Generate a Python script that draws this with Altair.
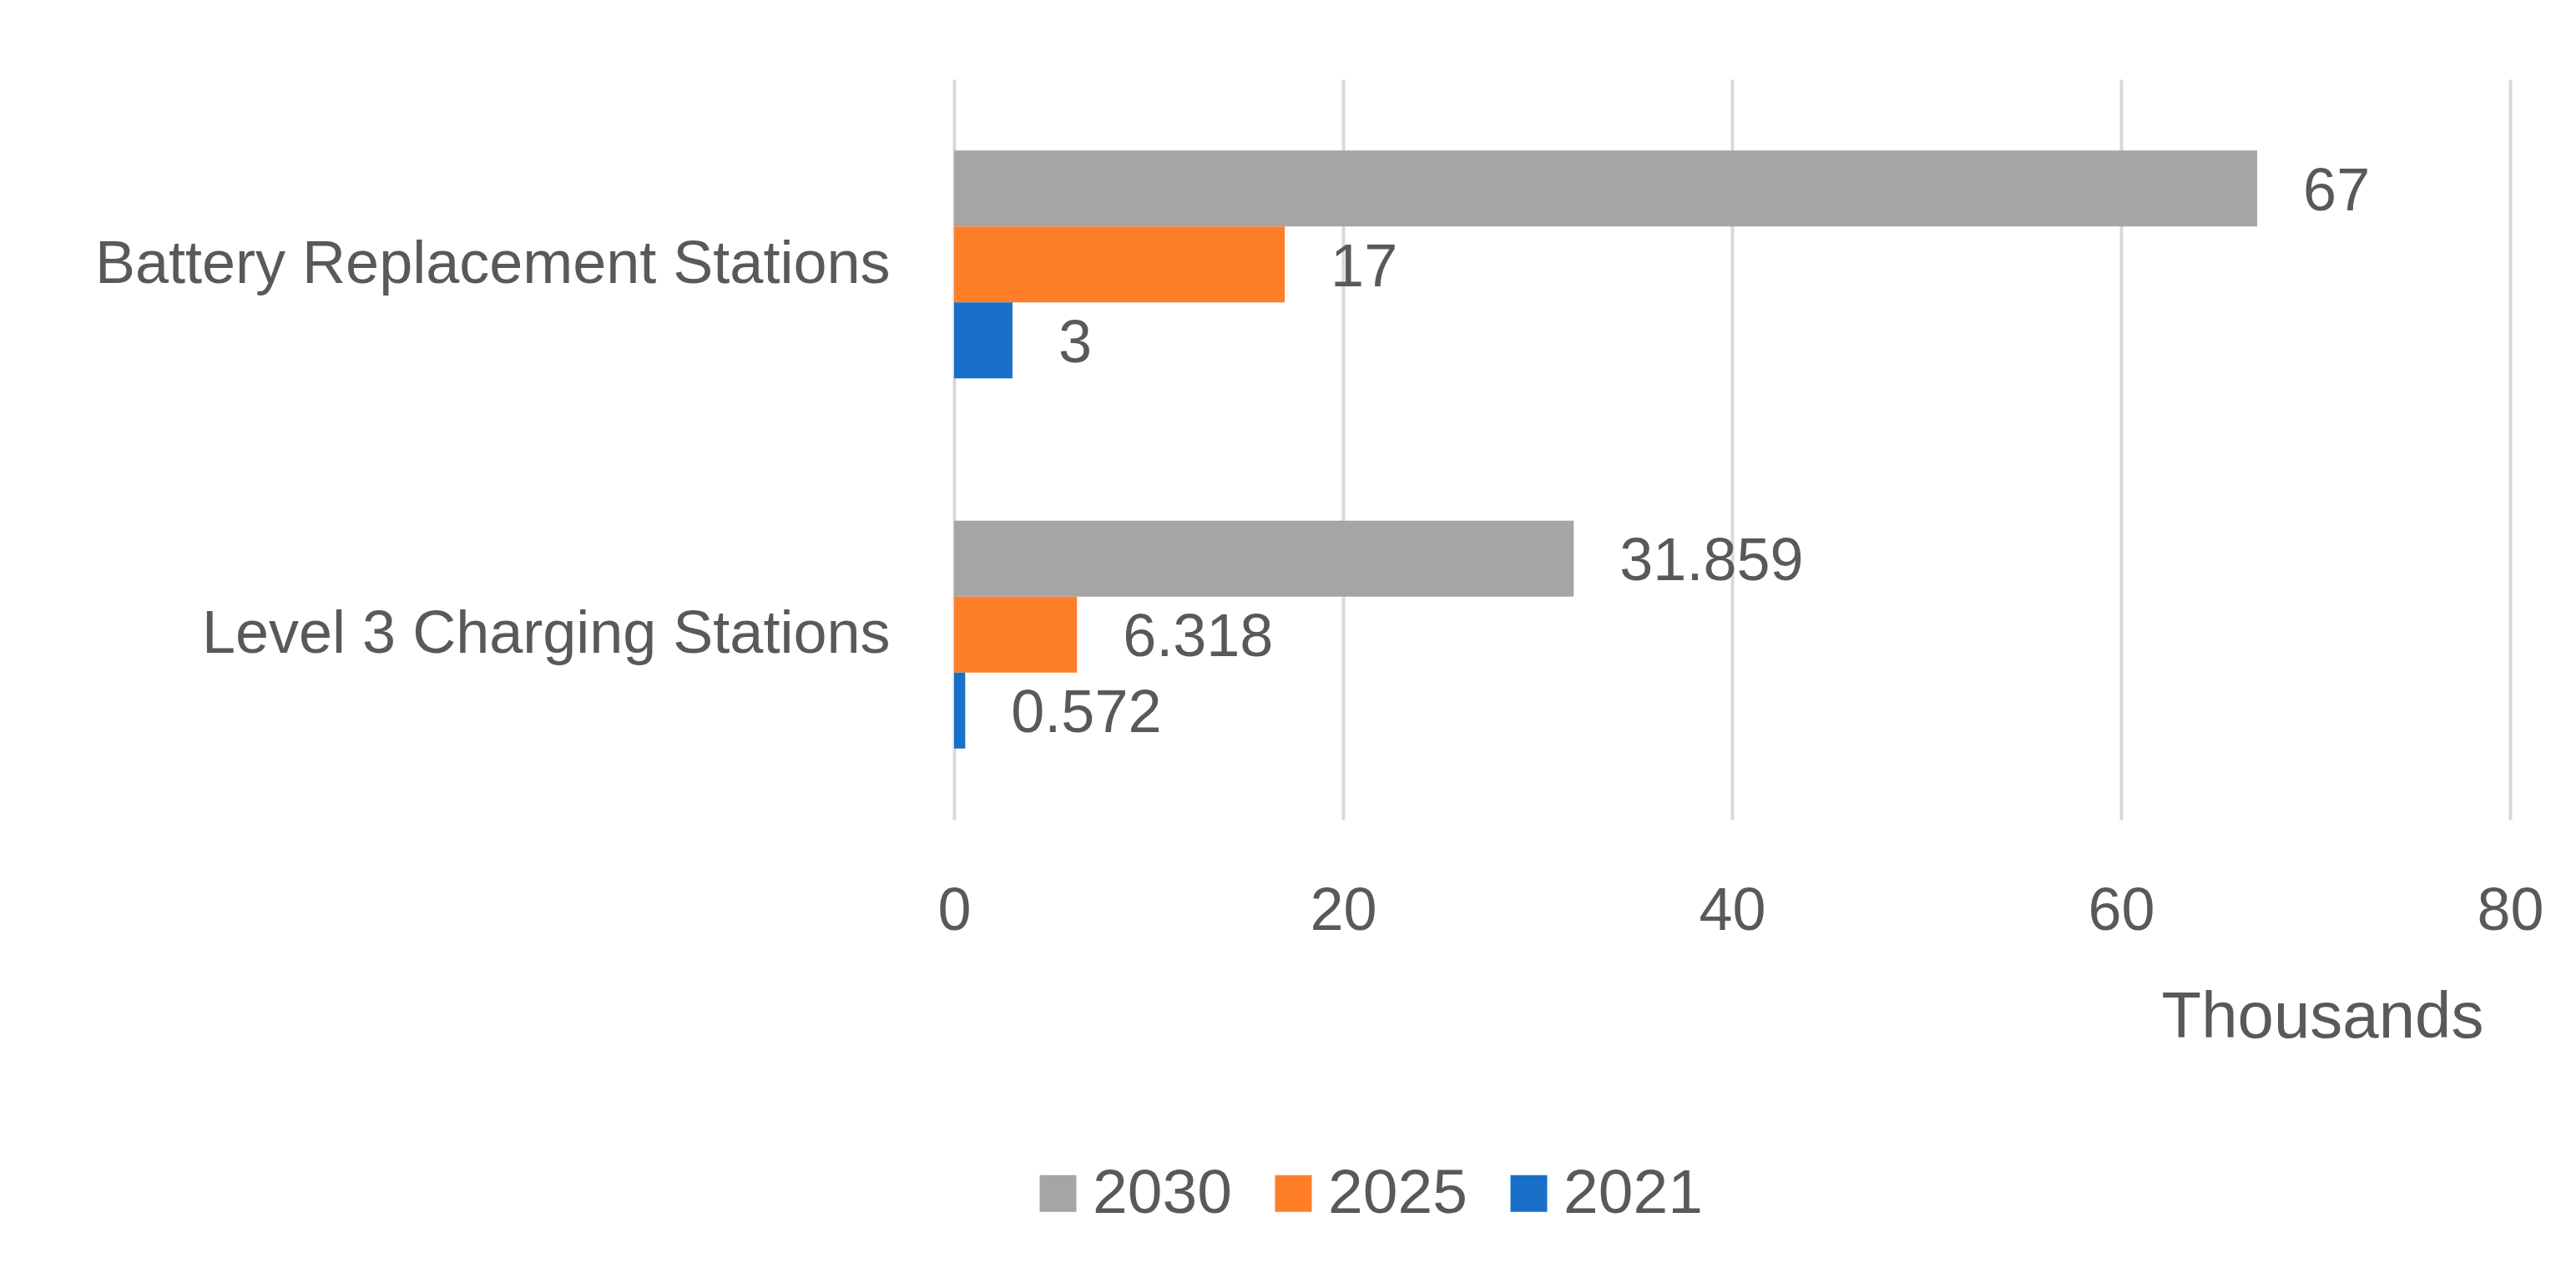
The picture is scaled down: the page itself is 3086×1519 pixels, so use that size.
import altair as alt
import pandas as pd

categories = ["Battery Replacement Stations", "Level 3 Charging Stations"]
years = ["2030", "2025", "2021"]
values_2030 = [67, 31.859]
values_2025 = [17, 6.318]
values_2021 = [3, 0.572]
colors = ["#A5A5A5", "#FE7F27", "#1870C8"]
x_ticks = [0, 20, 40, 60, 80]

rows = []
for yr, vals in zip(years, [values_2030, values_2025, values_2021]):
    for c, v in zip(categories, vals):
        rows.append({"category": c, "year": yr, "value": v})
df = pd.DataFrame(rows)

FONT = "Liberation Sans"
TEXT = "#595959"

base = alt.Chart(df).encode(
    y=alt.Y(
        "category:N",
        sort=categories,
        scale=alt.Scale(paddingInner=0.385, paddingOuter=0.1925),
        axis=alt.Axis(
            title=None, labelFontSize=72, labelFont=FONT, labelColor=TEXT,
            labelPadding=77, labelLimit=0, ticks=False, domain=False, grid=False,
        ),
    ),
    yOffset=alt.YOffset("year:N", scale=alt.Scale(domain=years)),
    x=alt.X(
        "value:Q",
        scale=alt.Scale(domain=[0, 80]),
        axis=alt.Axis(
            values=x_ticks, title="Thousands", titleFont=FONT, titleFontSize=78,
            titleFontWeight="normal", titleColor=TEXT, titleAlign="right",
            titleBaseline="alphabetic", titleX=1832, titleY=260, titleAngle=0,
            labelFont=FONT, labelFontSize=72, labelColor=TEXT, labelPadding=74,
            labelFlush=False,
            ticks=False, domain=False, grid=True, gridColor="#D9D9D9", gridWidth=4,
        ),
    ),
)

bars = base.mark_bar().encode(
    color=alt.Color(
        "year:N",
        scale=alt.Scale(domain=years, range=colors),
        legend=alt.Legend(
            orient="none", legendX=87, legendY=1297, direction="horizontal",
            title=None, symbolType="square", symbolSize=1936,
            symbolStrokeWidth=0, symbolOpacity=1,
            labelFontSize=75, labelFont=FONT, labelColor=TEXT, labelLimit=0,
            columnPadding=36, labelOffset=4,
        ),
    )
)

labels = base.mark_text(
    align="left", baseline="middle", dx=55, dy=4, fontSize=72, font=FONT, color=TEXT
).encode(text=alt.Text("value:Q", format="~g"))

chart = (
    alt.layer(bars, labels)
    .properties(
        width=1864,
        height=887,
        background="white",
        autosize=alt.AutoSizeParams(type="none"),
        padding={"left": 1135, "top": 87, "right": 60, "bottom": 520},
    )
    .configure_view(strokeWidth=0, stroke=None)
)

chart.save("out.html", embed_options={"renderer": "svg", "actions": False})
